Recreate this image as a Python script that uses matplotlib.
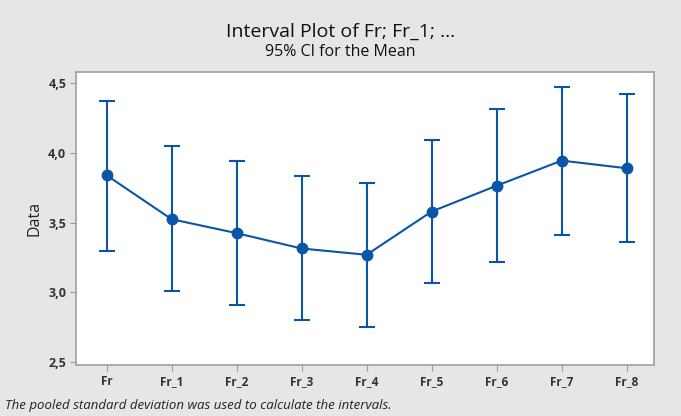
import matplotlib
matplotlib.use('Agg')
import matplotlib.pyplot as plt
from matplotlib.ticker import FixedLocator, FuncFormatter

# interval plot data: mean and 95% CI bounds per column
labels = ["Fr", "Fr_1", "Fr_2", "Fr_3", "Fr_4", "Fr_5", "Fr_6", "Fr_7", "Fr_8"]
means = [3.84, 3.525, 3.425, 3.315, 3.27, 3.58, 3.765, 3.945, 3.89]
ci_low = [3.30, 3.01, 2.91, 2.80, 2.755, 3.065, 3.22, 3.415, 3.36]
ci_high = [4.37, 4.05, 3.94, 3.835, 3.785, 4.095, 4.315, 4.475, 4.42]
yticks = [2.5, 3.0, 3.5, 4.0, 4.5]

plt.rcParams['font.family'] = ['Open Sans', 'DejaVu Sans']
blue = '#0b55a8'
bg = '#e6e6e6'

fig = plt.figure(figsize=(6.81, 4.16), dpi=100, facecolor=bg)
ax = fig.add_axes([76 / 681, 1 - 365 / 416, (654 - 76) / 681, (365 - 72) / 416])
ax.set_facecolor('white')

x = list(range(len(labels)))
err_lo = [m - lo for m, lo in zip(means, ci_low)]
err_hi = [hi - m for m, hi in zip(means, ci_high)]
ax.errorbar(x, means, yerr=[err_lo, err_hi], fmt='none', ecolor=blue,
            elinewidth=1.5, capsize=6, capthick=1.5, zorder=2)
ax.plot(x, means, color=blue, lw=1.5, marker='o', ms=7.5, zorder=3)

ax.set_xlim(-0.47, 8.42)
ax.set_ylim(2.48, 4.58)
ax.set_xticks(x)
ax.set_xticklabels(labels, fontsize=8.5, fontweight='bold', color='#333333')
ax.yaxis.set_major_locator(FixedLocator(yticks))
ax.yaxis.set_major_formatter(FuncFormatter(lambda v, p: f"{v:.1f}".replace('.', ',')))
for t in ax.get_yticklabels():
    t.set_fontsize(9)
    t.set_fontweight('bold')
    t.set_color('#333333')
ax.tick_params(axis='both', length=4, width=0.8, color='#999999', pad=3)
for s in ax.spines.values():
    s.set_color('#a0a0a0')
    s.set_linewidth(1.2)

ax.set_ylabel('Data', fontsize=11.5, color='#222222')
ax.yaxis.set_label_coords(-(76 - 43) / (654 - 76), 0.5)

fig.text(0.5, 1 - 32 / 416, 'Interval Plot of Fr; Fr_1; ...', ha='center', va='center',
         fontsize=14, color='#111111')
fig.text(0.5, 1 - 52 / 416, '95% CI for the Mean', ha='center', va='center',
         fontsize=11.5, color='#111111')
fig.text(5 / 681, 1 - 405 / 416, 'The pooled standard deviation was used to calculate the intervals.',
         ha='left', va='center', fontsize=9.5, style='italic', color='#222222')

fig.savefig('out.png', dpi=100, facecolor=bg)
